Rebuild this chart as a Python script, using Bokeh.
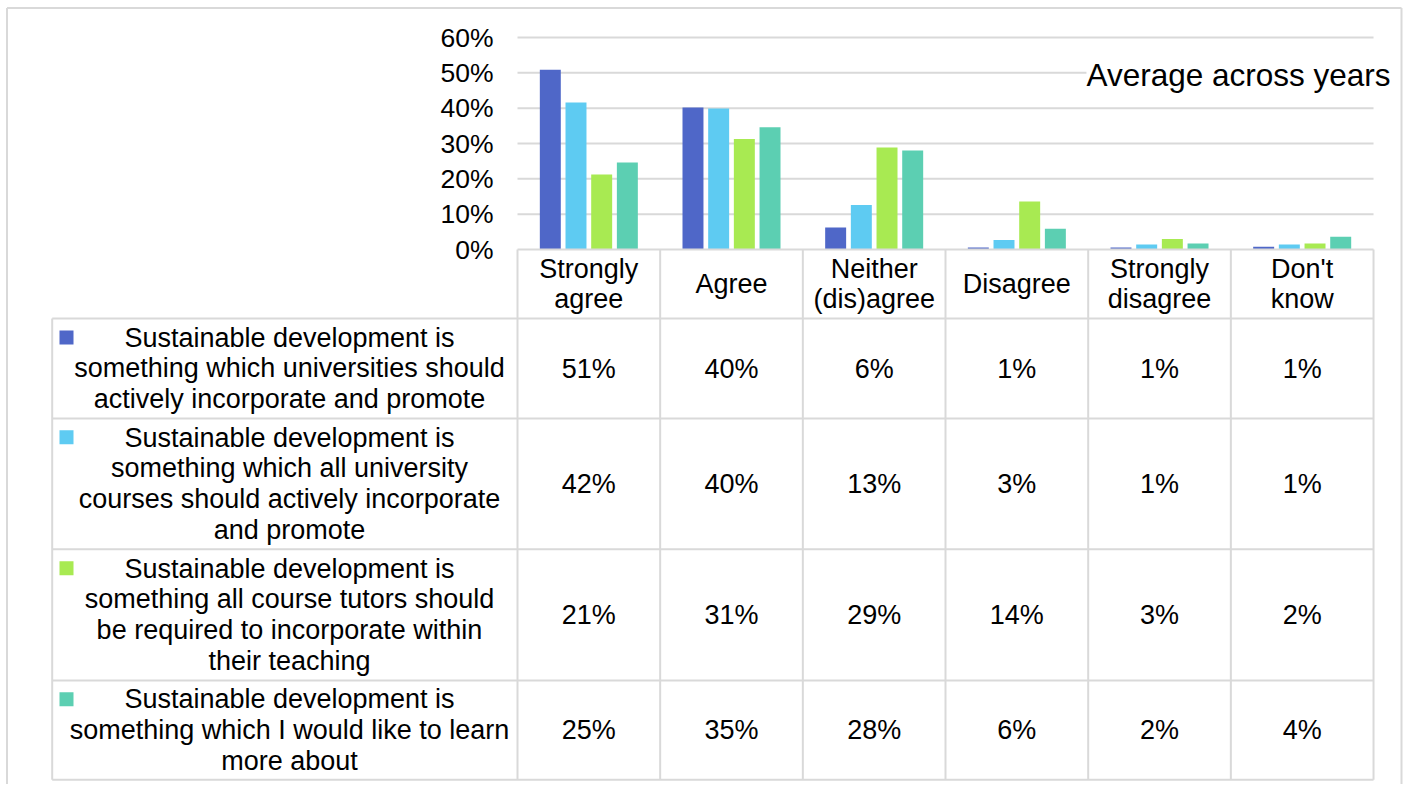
from bokeh.plotting import figure
from bokeh.models import Range1d
from bokeh.core.properties import value
from bokeh.embed import file_html
from bokeh.resources import INLINE

# ---------------- data ----------------
categories = ["Strongly\nagree", "Agree", "Neither\n(dis)agree", "Disagree",
              "Strongly\ndisagree", "Don't\nknow"]
statements = [
    "Sustainable development is\nsomething which universities should\nactively incorporate and promote",
    "Sustainable development is\nsomething which all university\ncourses should actively incorporate\nand promote",
    "Sustainable development is\nsomething all course tutors should\nbe required to incorporate within\ntheir teaching",
    "Sustainable development is\nsomething which I would like to learn\nmore about",
]
series_colors = ["#4f67c8", "#5ecbf2", "#a8ea52", "#5ccfb2"]
universities_promote = [50.9, 40.2, 6.2, 0.6, 0.6, 0.8]
courses_promote = [41.6, 39.9, 12.6, 2.7, 1.4, 1.4]
tutors_required = [21.2, 31.3, 28.9, 13.6, 3.0, 1.7]
like_to_learn = [24.6, 34.6, 28.0, 5.9, 1.7, 3.6]
series = [universities_promote, courses_promote, tutors_required, like_to_learn]
y_ticks = [0, 10, 20, 30, 40, 50, 60]
y_tick_labels = ["0%", "10%", "20%", "30%", "40%", "50%", "60%"]
annotation = "Average across years"

# ---------------- layout ----------------
W, H = 1404, 784
FONT = value("Liberation Sans")
FS = "27px"
GRID = "#d9d9d9"
LH = 1.03

plot_left_px = 517.0
col_w = 142.67
zero_px = 249.0
px_per_pct = 212.0 / 60.0

x_range = Range1d(-plot_left_px / col_w, (W - plot_left_px) / col_w)
y_range = Range1d(-(H - zero_px) / px_per_pct, zero_px / px_per_pct)

p = figure(width=W, height=H, x_range=x_range, y_range=y_range,
           output_backend="svg", toolbar_location=None,
           x_axis_type=None, y_axis_type=None, min_border=0)
p.grid.visible = False
p.outline_line_color = None
p.background_fill_color = "white"
p.border_fill_color = "white"
p.extra_x_ranges = {"px": Range1d(0, W)}
p.extra_y_ranges = {"px": Range1d(H, 0)}

ncat = len(categories)
right_px = plot_left_px + ncat * col_w

# outer border (left, top, right)
p.segment(x0=[6.5, 6.5, 1401.0], y0=[H, 7.5, 7.5], x1=[6.5, 1401.0, 1401.0],
          y1=[7.5, 7.5, H], line_color=GRID, line_width=2,
          x_range_name="px", y_range_name="px")

# gridlines
gl = [t for t in y_ticks if t > 0]
p.segment(x0=[0] * len(gl), x1=[ncat] * len(gl), y0=gl, y1=gl,
          line_color=GRID, line_width=2)

# y tick labels
p.text(x=[493] * len(y_ticks), y=[zero_px - t * px_per_pct for t in y_ticks],
       text=y_tick_labels, text_align="right", text_baseline="middle",
       text_font=FONT, text_font_size="26.5px", text_color="black",
       x_range_name="px", y_range_name="px")

# bars
pitch = 0.18
bw = 0.147
ns = len(series)
for j, (vals, col) in enumerate(zip(series, series_colors)):
    xs = [i + 0.5 + (j - (ns - 1) / 2) * pitch for i in range(ncat)]
    p.vbar(x=xs, top=vals, bottom=0, width=bw, fill_color=col, line_color=None)

# ---------------- data table ----------------
row_bounds = [318.0, 418.0, 548.7, 680.0, 779.3]
label_left = 51.7

# header top (0% line) across category columns
p.segment(x0=[0], x1=[ncat], y0=[zero_px], y1=[zero_px],
          line_color=GRID, line_width=2, y_range_name="px")
# horizontal row lines
for yb in row_bounds:
    p.segment(x0=[label_left], x1=[right_px], y0=[yb], y1=[yb],
              line_color=GRID, line_width=2, x_range_name="px", y_range_name="px")
# vertical lines
p.segment(x0=list(range(ncat + 1)), x1=list(range(ncat + 1)),
          y0=[zero_px] * (ncat + 1), y1=[row_bounds[-1]] * (ncat + 1),
          line_color=GRID, line_width=2, y_range_name="px")
p.segment(x0=[label_left], x1=[label_left], y0=[row_bounds[0]], y1=[row_bounds[-1]],
          line_color=GRID, line_width=2, x_range_name="px", y_range_name="px")

# header labels
p.text(x=[i + 0.5 for i in range(ncat)], y=[(zero_px + row_bounds[0]) / 2] * ncat,
       text=categories, text_align="center", text_baseline="middle",
       text_font=FONT, text_font_size=FS, text_line_height=LH, text_color="black",
       y_range_name="px")

line_h = 31.0
row_centers = [(row_bounds[k] + row_bounds[k + 1]) / 2 for k in range(len(statements))]

# row labels + legend keys
p.text(x=[289] * len(statements), y=row_centers, text=statements,
       text_align="center", text_baseline="middle", text_font=FONT,
       text_font_size=FS, text_line_height=LH, text_color="black",
       x_range_name="px", y_range_name="px")
key_y = [c - (s.count("\n")) / 2 * line_h for c, s in zip(row_centers, statements)]
p.rect(x=[66] * len(statements), y=key_y, width=14, height=14,
       fill_color=series_colors, line_color=None,
       x_range_name="px", y_range_name="px")

# values in cells
cx, cy, ct = [], [], []
for k, vals in enumerate(series):
    for i, v in enumerate(vals):
        cx.append(i + 0.5)
        cy.append(row_centers[k])
        ct.append(f"{int(v + 0.5)}%")
p.text(x=cx, y=cy, text=ct, text_align="center", text_baseline="middle",
       text_font=FONT, text_font_size=FS, text_color="black", y_range_name="px")

# annotation
p.text(x=[1390], y=[74], text=[annotation], text_align="right", text_baseline="middle",
       text_font=FONT, text_font_size="31.5px", text_color="black",
       background_fill_color="white",
       x_range_name="px", y_range_name="px")

open("out.html", "w").write(file_html(p, INLINE))
